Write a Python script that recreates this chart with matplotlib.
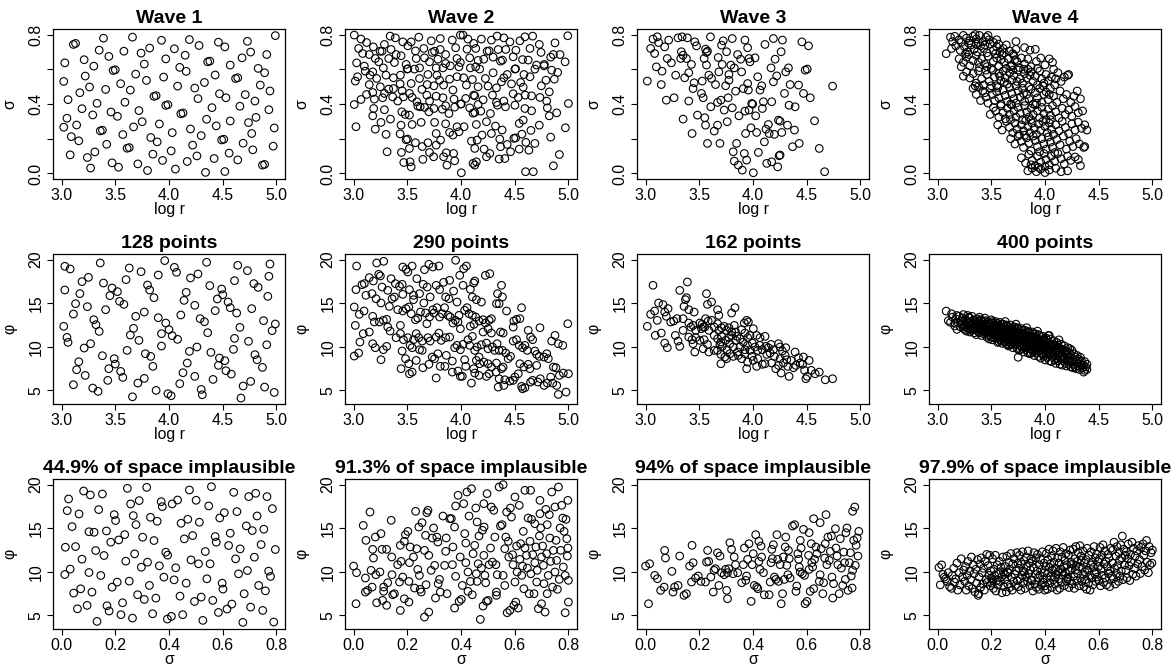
import matplotlib
matplotlib.use('Agg')
import matplotlib.pyplot as plt

# ---- wave 1 (128 points) ----
w1_logr_sigma = [
    (4.99, .794), (3.66, .785), (3.39, .779), (4.19, .771), (3.93, .767), (4.73, .761), (4.46, .756),
    (4.52, .729), (3.11, .743), (3.13, .749), (4.28, .737), (4.05, .718), (3.35, .710), (3.58, .704),
    (4.76, .699), (3.74, .693), (4.15, .681), (4.91, .685), (3.44, .674), (3.82, .722), (3.97, .660),
    (4.68, .666), (4.36, .643), (4.38, .647), (3.03, .637), (3.21, .655), (3.77, .630), (4.57, .624),
    (3.30, .618), (4.10, .611), (4.83, .605), (3.48, .593), (3.50, .597), (4.16, .588), (4.89, .580),
    (3.69, .572), (4.43, .567), (3.22, .561), (4.62, .547), (4.64, .551), (3.95, .555), (3.79, .536),
    (3.02, .530), (4.33, .524), (3.55, .517), (4.08, .503), (4.85, .509), (3.26, .498), (4.24, .492),
    (3.41, .484), (3.64, .480), (4.94, .475), (3.17, .465), (4.47, .459), (4.71, .454), (3.86, .444),
    (3.88, .448), (4.53, .436), (4.27, .431), (3.06, .425), (4.80, .417), (3.59, .410), (3.33, .404),
    (3.97, .392), (3.99, .396), (4.40, .379), (4.66, .387), (3.19, .373), (3.72, .362), (4.93, .367),
    (3.46, .354), (4.11, .344), (4.13, .348), (3.29, .337), (3.52, .329), (4.81, .323), (3.05, .318),
    (4.35, .312), (4.57, .302), (3.75, .298), (4.74, .293), (3.91, .285), (3.14, .279), (4.44, .274),
    (3.67, .268), (3.02, .266), (4.98, .262), (4.20, .256), (3.36, .245), (3.38, .249), (4.03, .235),
    (4.77, .230), (3.57, .224), (4.30, .218), (3.09, .212), (3.83, .207), (4.49, .193), (4.51, .197),
    (3.89, .182), (3.16, .188), (4.69, .174), (3.42, .168), (4.22, .163), (4.97, .157), (3.61, .145),
    (3.63, .149), (4.78, .136), (4.02, .130), (3.31, .124), (4.56, .117), (3.85, .111), (3.08, .107),
    (4.26, .101), (3.24, .092), (4.42, .086), (3.94, .075), (4.64, .078), (4.17, .069), (3.47, .061),
    (3.71, .055), (4.87, .048), (4.89, .052), (3.53, .036), (3.27, .031), (4.06, .025), (3.80, .017),
    (4.52, .011), (4.34, .006)]
w1_logr_phi = [
    (3.03, 19.24), (3.08, 18.93), (3.36, 19.62), (3.63, 19.04), (3.96, 19.89), (4.05, 19.12), (4.07, 18.55),
    (4.35, 19.70), (4.27, 18.36), (4.20, 17.90), (3.74, 18.62), (3.90, 18.24), (3.60, 17.71), (4.64, 19.35),
    (4.73, 18.74), (4.94, 19.50), (4.93, 18.09), (3.25, 17.97), (3.19, 17.48), (3.03, 16.52), (3.39, 17.32),
    (3.80, 17.09), (3.82, 16.52), (3.47, 16.75), (3.52, 16.33), (3.45, 15.87), (3.17, 16.10), (3.13, 14.95),
    (3.24, 14.61), (3.54, 15.22), (3.58, 14.87), (3.86, 15.64), (4.16, 16.25), (4.14, 15.33), (4.24, 14.76),
    (4.38, 17.02), (4.49, 16.63), (4.50, 15.98), (4.45, 15.49), (4.55, 15.14), (4.57, 14.49), (4.61, 17.59),
    (4.79, 17.25), (4.83, 16.82), (4.92, 15.79), (3.41, 14.26), (3.77, 13.99), (4.11, 13.65), (4.43, 14.15),
    (4.77, 14.38), (4.63, 13.88), (3.11, 13.76), (3.69, 13.50), (3.30, 13.11), (3.32, 12.54), (3.90, 13.34),
    (4.29, 13.23), (4.33, 12.88), (4.88, 13.00), (4.99, 12.62), (3.02, 12.35), (3.97, 12.73), (4.66, 12.23),
    (3.35, 11.77), (3.67, 12.12), (4.00, 11.97), (4.96, 11.85), (4.36, 11.62), (3.93, 11.51), (3.64, 11.35),
    (4.03, 11.28), (4.08, 10.86), (3.05, 11.08), (3.06, 10.51), (4.61, 10.97), (3.72, 10.74), (4.74, 10.63),
    (3.27, 10.36), (4.91, 10.24), (3.93, 10.09), (3.21, 9.86), (4.26, 9.98), (4.60, 9.71), (3.61, 9.59),
    (4.19, 9.48), (4.39, 9.36), (3.38, 8.98), (3.78, 9.21), (3.83, 8.90), (4.80, 9.10), (4.82, 8.52),
    (3.49, 8.64), (4.47, 8.71), (4.52, 8.41), (3.16, 8.29), (3.50, 8.02), (4.17, 8.14), (4.46, 7.87),
    (3.85, 7.76), (4.87, 7.64), (3.44, 7.49), (3.14, 7.37), (4.53, 7.26), (3.55, 7.18), (4.13, 7.03),
    (4.58, 6.87), (3.22, 6.72), (4.24, 6.61), (3.57, 6.49), (3.77, 6.38), (3.43, 6.15), (4.41, 6.26),
    (4.76, 6.03), (4.10, 5.77), (3.11, 5.65), (3.71, 5.84), (4.69, 5.50), (3.29, 5.27), (4.89, 5.38),
    (3.34, 4.89), (3.88, 5.00), (4.30, 5.11), (4.98, 4.77), (3.99, 4.62), (4.02, 4.39), (4.31, 4.50),
    (3.66, 4.27), (4.67, 4.12)]
w1_sigma_phi = [
    (.014, 12.82), (.026, 18.36), (.021, 17.02), (.039, 15.19), (.052, 12.90), (.012, 9.69), (.032, 10.31),
    (.045, 7.56), (.059, 5.76), (.071, 8.05), (.065, 16.64), (.076, 11.45), (.082, 19.27), (.095, 6.15),
    (.102, 9.92), (.107, 18.82), (.113, 7.67), (.121, 14.54), (.102, 14.60), (.127, 12.44), (.132, 4.31),
    (.146, 9.58), (.152, 18.93), (.138, 17.14), (.158, 11.87), (.167, 14.69), (.169, 6.11), (.177, 5.50),
    (.183, 13.40), (.188, 8.24), (.196, 16.56), (.201, 15.88), (.207, 8.82), (.213, 13.66), (.221, 5.08),
    (.227, 6.45), (.235, 14.27), (.239, 11.22), (.245, 19.58), (.252, 8.93), (.257, 17.79), (.264, 4.69),
    (.267, 16.45), (.272, 12.06), (.277, 15.42), (.283, 7.37), (.289, 18.17), (.302, 13.97), (.297, 10.53),
    (.308, 6.83), (.317, 19.69), (.320, 11.11), (.327, 8.44), (.331, 16.26), (.339, 5.19), (.344, 13.59),
    (.351, 6.98), (.356, 15.80), (.364, 10.69), (.371, 18.05), (.375, 17.48), (.381, 9.39), (.388, 12.25),
    (.395, 11.91), (.394, 4.58), (.409, 4.89), (.412, 17.79), (.419, 9.08), (.425, 10.46), (.432, 18.24),
    (.441, 7.21), (.445, 15.57), (.451, 5.08), (.457, 13.78), (.464, 8.70), (.470, 16.03), (.476, 19.39),
    (.482, 11.37), (.488, 14.16), (.501, 18.21), (.495, 6.60), (.510, 10.92), (.513, 15.69), (.520, 7.10),
    (.526, 4.43), (.535, 12.33), (.541, 9.20), (.548, 17.56), (.553, 10.92), (.558, 19.77), (.563, 6.72),
    (.572, 14.05), (.576, 13.40), (.584, 5.34), (.589, 16.18), (.598, 8.70), (.601, 8.02), (.606, 16.79),
    (.616, 5.73), (.622, 13.02), (.628, 14.43), (.634, 6.30), (.641, 19.12), (.648, 11.49), (.653, 16.91),
    (.659, 9.77), (.665, 12.63), (.675, 4.20), (.680, 7.48), (.688, 15.27), (.692, 10.15), (.697, 18.63),
    (.704, 5.95), (.710, 14.73), (.718, 11.68), (.723, 19.01), (.728, 16.41), (.734, 8.44), (.743, 13.13),
    (.749, 5.57), (.753, 14.89), (.759, 7.82), (.765, 18.63), (.771, 10.08), (.778, 9.47), (.785, 17.25),
    (.790, 4.24), (.796, 12.56)]

# ---- wave 2 (290 points) ----
w2_logr_sigma = [
    (3.006, .797), (3.340, .791), (3.389, .781), (3.994, .797), (4.019, .797), (4.065, .774), (4.336, .791),
    (4.399, .781), (4.595, .787), (4.667, .791), (4.994, .793), (3.069, .774), (3.121, .754), (3.184, .729),
    (3.287, .743), (3.458, .758), (3.536, .758), (3.607, .785), (3.723, .764), (3.807, .777), (3.919, .768),
    (4.118, .749), (4.190, .774), (4.283, .768), (4.455, .758), (4.548, .764), (4.729, .743), (4.875, .752),
    (3.047, .720), (3.084, .691), (3.146, .685), (3.202, .662), (3.246, .704), (3.265, .704), (3.349, .714),
    (3.396, .685), (3.505, .735), (3.576, .706), (3.654, .720), (3.732, .697), (3.754, .704), (3.807, .714),
    (3.857, .685), (3.950, .724), (4.056, .716), (4.137, .720), (4.243, .704), (4.262, .706), (4.346, .714),
    (4.417, .714), (4.511, .710), (4.642, .720), (4.745, .697), (4.860, .685), (4.922, .685), (3.028, .637),
    (3.100, .618), (3.178, .585), (3.234, .643), (3.277, .608), (3.327, .662), (3.380, .639), (3.442, .678),
    (3.489, .628), (3.583, .662), (3.660, .666), (3.707, .643), (3.785, .658), (3.857, .633), (3.963, .662),
    (3.994, .639), (4.081, .666), (4.159, .651), (4.212, .658), (4.299, .670), (4.368, .647), (4.386, .653),
    (4.486, .672), (4.573, .656), (4.626, .653), (4.704, .624), (4.776, .628), (4.835, .670), (4.969, .643),
    (3.016, .532), (3.037, .557), (3.109, .589), (3.153, .566), (3.302, .566), (3.371, .551), (3.436, .566),
    (3.498, .601), (3.505, .603), (3.567, .601), (3.614, .608), (3.692, .570), (3.769, .608), (3.832, .608),
    (3.900, .620), (3.981, .614), (4.087, .608), (4.137, .614), (4.174, .601), (4.299, .580), (4.399, .551),
    (4.430, .570), (4.502, .601), (4.508, .603), (4.586, .570), (4.642, .557), (4.688, .601), (4.773, .620),
    (4.844, .595), (4.900, .582), (3.146, .512), (3.215, .547), (3.249, .499), (3.327, .486), (3.371, .489),
    (3.433, .516), (3.452, .476), (3.536, .518), (3.614, .547), (3.636, .484), (3.685, .512), (3.748, .505),
    (3.776, .566), (3.801, .537), (3.838, .509), (3.894, .543), (3.925, .480), (3.963, .557), (4.025, .551),
    (4.050, .509), (4.106, .541), (4.159, .499), (4.227, .547), (4.252, .503), (4.330, .493), (4.377, .528),
    (4.470, .516), (4.555, .524), (4.579, .497), (4.748, .505), (4.791, .537), (4.869, .543), (3.121, .455),
    (3.069, .426), (3.178, .466), (3.193, .428), (3.271, .436), (3.287, .461), (3.364, .441), (3.411, .417),
    (3.464, .441), (3.520, .461), (3.545, .438), (3.589, .413), (3.620, .384), (3.682, .451), (3.707, .417),
    (3.769, .445), (3.832, .436), (3.857, .390), (3.935, .428), (3.997, .399), (4.003, .401), (4.044, .432),
    (4.118, .451), (4.128, .447), (4.159, .397), (4.206, .424), (4.293, .451), (4.330, .409), (4.399, .417),
    (4.486, .459), (4.533, .438), (4.598, .451), (4.657, .447), (4.735, .438), (4.822, .470), (4.798, .417),
    (5.000, .403), (3.006, .397), (3.187, .374), (3.287, .367), (3.449, .355), (3.480, .340), (3.520, .336),
    (3.598, .388), (3.660, .380), (3.701, .355), (3.748, .374), (3.826, .370), (3.888, .345), (3.941, .382),
    (4.081, .378), (4.112, .347), (4.128, .351), (4.184, .359), (4.274, .345), (4.340, .393), (4.414, .384),
    (4.502, .393), (4.595, .374), (4.657, .361), (4.804, .378), (4.891, .349), (4.822, .332), (3.178, .332),
    (3.255, .294), (3.343, .313), (3.442, .278), (3.545, .282), (3.629, .294), (3.754, .294), (3.857, .286),
    (3.963, .269), (4.028, .269), (3.981, .240), (4.143, .282), (4.237, .298), (4.321, .273), (4.383, .250),
    (4.542, .288), (4.579, .307), (4.651, .248), (4.729, .278), (4.972, .263), (3.022, .269), (3.202, .255),
    (3.302, .225), (3.433, .228), (3.489, .194), (3.502, .198), (3.576, .177), (3.692, .177), (3.769, .230),
    (3.810, .192), (3.894, .236), (3.925, .221), (4.097, .186), (4.150, .192), (4.196, .221), (4.283, .230),
    (4.361, .198), (4.492, .202), (4.508, .205), (4.567, .226), (4.604, .179), (4.688, .173), (4.835, .209),
    (3.312, .125), (3.445, .121), (3.520, .144), (3.639, .155), (3.707, .121), (3.769, .163), (3.863, .119),
    (3.931, .115), (4.128, .144), (4.215, .140), (4.268, .115), (4.368, .154), (4.430, .167), (4.461, .125),
    (4.542, .140), (4.632, .134), (4.916, .109), (3.467, .063), (3.526, .067), (3.536, .038), (3.645, .081),
    (3.745, .096), (3.838, .096), (3.869, .048), (3.941, .073), (4.003, .004), (4.112, .058), (4.143, .067),
    (4.128, .048), (4.237, .096), (4.355, .083), (4.408, .086), (4.601, .010), (4.673, .010), (4.860, .044)]
w2_logr_phi = [
    (3.028, 19.27), (3.215, 19.62), (3.280, 19.81), (3.458, 19.16), (3.489, 18.89), (3.505, 18.59), (3.545, 19.27),
    (3.660, 18.85), (3.701, 19.47), (3.738, 19.16), (3.794, 19.27), (3.950, 19.93), (4.025, 18.97), (4.050, 19.27),
    (3.988, 18.20), (4.227, 18.20), (4.268, 18.39), (3.022, 16.56), (3.078, 17.13), (3.100, 17.25), (3.146, 17.94),
    (3.184, 17.55), (3.234, 18.32), (3.249, 18.13), (3.265, 16.86), (3.318, 16.48), (3.349, 17.82), (3.389, 17.25),
    (3.427, 16.94), (3.452, 17.17), (3.458, 16.02), (3.520, 16.56), (3.558, 15.91), (3.589, 17.82), (3.614, 16.10),
    (3.648, 17.17), (3.685, 16.86), (3.713, 15.72), (3.769, 17.06), (3.801, 16.56), (3.838, 17.40), (3.857, 15.72),
    (3.888, 15.52), (3.894, 17.63), (3.931, 16.40), (3.963, 15.14), (4.019, 17.06), (4.087, 16.60), (4.106, 15.72),
    (4.118, 17.32), (4.128, 17.55), (4.143, 15.41), (4.190, 15.14), (4.340, 16.10), (4.355, 14.95), (4.377, 17.06),
    (4.386, 15.72), (3.115, 15.91), (3.171, 16.10), (3.209, 15.52), (3.255, 15.03), (3.006, 14.57), (3.053, 13.73),
    (3.097, 14.11), (3.178, 13.50), (3.193, 12.85), (3.240, 12.85), (3.277, 13.04), (3.308, 13.15), (3.333, 14.64),
    (3.358, 15.52), (3.380, 15.72), (3.411, 14.26), (3.436, 12.46), (3.458, 14.11), (3.489, 14.38), (3.514, 14.57),
    (3.536, 13.80), (3.558, 15.41), (3.576, 13.11), (3.598, 13.30), (3.623, 13.99), (3.654, 15.03), (3.670, 13.88),
    (3.682, 12.65), (3.707, 13.42), (3.738, 14.26), (3.748, 13.88), (3.776, 14.49), (3.801, 13.42), (3.826, 13.80),
    (3.847, 14.49), (3.879, 13.61), (3.900, 13.42), (3.925, 12.73), (3.947, 13.04), (3.972, 12.85), (3.981, 13.61),
    (3.994, 12.08), (4.034, 14.19), (4.056, 14.49), (4.075, 13.80), (4.106, 13.61), (4.137, 13.42), (4.087, 12.35),
    (4.121, 12.58), (4.168, 12.96), (4.206, 13.11), (4.227, 12.73), (4.262, 13.04), (4.283, 13.23), (4.206, 11.70),
    (4.252, 12.08), (4.283, 11.58), (4.330, 14.95), (4.368, 11.70), (4.392, 11.58), (4.424, 14.11), (4.492, 12.96),
    (4.517, 13.15), (4.548, 13.23), (4.564, 14.49), (4.486, 12.27), (4.626, 11.89), (4.735, 12.19), (4.994, 12.65),
    (3.016, 12.46), (3.090, 11.51), (3.059, 10.55), (3.146, 11.70), (3.178, 10.36), (3.202, 9.90), (3.340, 11.81),
    (3.318, 12.27), (3.277, 9.67), (3.308, 10.05), (3.255, 8.52), (3.006, 8.94), (3.047, 9.29), (3.396, 11.05),
    (3.436, 11.51), (3.464, 10.82), (3.505, 11.05), (3.558, 10.82), (3.583, 11.51), (3.607, 11.05), (3.639, 10.66),
    (3.692, 11.05), (3.713, 10.66), (3.769, 11.12), (3.794, 11.58), (3.816, 10.74), (3.857, 11.05), (3.894, 11.12),
    (3.526, 10.17), (3.545, 9.90), (3.452, 9.52), (3.483, 8.64), (3.514, 8.06), (3.583, 8.44), (3.614, 9.67),
    (3.639, 9.59), (3.442, 7.49), (3.520, 6.91), (3.545, 7.10), (3.645, 7.60), (3.701, 7.99), (3.732, 8.83),
    (3.754, 8.64), (3.785, 9.21), (3.807, 7.76), (3.850, 7.76), (3.863, 9.02), (3.919, 8.37), (3.941, 9.90),
    (3.963, 10.17), (3.994, 9.67), (4.019, 10.28), (4.034, 8.52), (4.044, 7.76), (3.972, 7.22), (3.919, 7.10),
    (3.994, 6.61), (4.012, 6.61), (3.769, 6.42), (4.065, 10.82), (4.081, 10.17), (4.106, 11.20), (4.128, 9.59),
    (4.150, 9.98), (4.168, 8.83), (4.190, 10.24), (4.237, 10.43), (4.252, 9.78), (4.293, 9.98), (4.314, 9.59),
    (4.336, 10.36), (4.355, 9.59), (4.386, 9.59), (4.417, 9.29), (4.439, 8.64), (4.461, 8.90), (4.486, 10.66),
    (4.517, 10.82), (4.542, 10.17), (4.573, 9.90), (4.595, 10.17), (4.617, 9.59), (4.648, 11.12), (4.667, 10.82),
    (4.688, 9.52), (4.704, 9.13), (4.729, 8.90), (4.773, 8.83), (4.798, 9.21), (4.813, 8.64), (4.844, 10.66),
    (4.875, 11.31), (4.906, 10.36), (4.947, 10.17), (4.143, 8.44), (4.174, 8.06), (4.212, 8.25), (4.252, 8.06),
    (4.283, 7.68), (4.330, 8.14), (4.377, 7.49), (4.392, 7.68), (4.118, 7.49), (4.128, 6.99), (4.168, 6.72),
    (4.237, 6.61), (4.262, 6.91), (4.327, 7.10), (4.355, 6.34), (4.097, 5.84), (4.408, 6.22), (4.399, 5.57),
    (4.346, 5.38), (4.455, 6.07), (4.486, 6.15), (4.502, 6.53), (4.533, 6.91), (4.548, 8.06), (4.586, 7.68),
    (4.626, 7.99), (4.642, 7.49), (4.704, 7.87), (4.564, 5.46), (4.573, 5.19), (4.595, 5.31), (4.648, 5.96),
    (4.667, 6.15), (4.716, 5.96), (4.738, 6.34), (4.773, 5.57), (4.804, 5.84), (4.835, 6.53), (4.860, 7.68),
    (4.884, 7.60), (4.854, 5.84), (4.891, 5.57), (4.916, 6.72), (4.953, 6.99), (5.000, 6.91), (4.906, 4.54),
    (4.978, 4.81)]
w2_sigma_phi = [
    (.000, 10.66), (.011, 9.90), (.009, 6.34), (.036, 15.33), (.046, 13.61), (.044, 9.29), (.044, 7.68),
    (.052, 7.87), (.061, 16.86), (.069, 8.25), (.071, 12.58), (.065, 10.17), (.074, 11.58), (.081, 13.99),
    (.083, 9.67), (.086, 6.45), (.098, 9.98), (.102, 14.38), (.106, 12.58), (.108, 6.72), (.112, 8.25),
    (.112, 7.76), (.123, 6.15), (.123, 12.58), (.127, 8.75), (.140, 15.91), (.142, 11.70), (.143, 9.67),
    (.146, 7.37), (.152, 7.49), (.164, 10.82), (.171, 8.83), (.174, 5.57), (.174, 13.04), (.177, 11.20),
    (.183, 9.40), (.189, 13.50), (.193, 14.26), (.202, 14.64), (.189, 6.91), (.206, 6.53), (.206, 8.90),
    (.208, 11.05), (.211, 12.85), (.223, 11.70), (.227, 8.14), (.231, 16.94), (.235, 12.65), (.239, 10.28),
    (.243, 15.14), (.245, 9.59), (.248, 7.99), (.252, 7.68), (.255, 15.64), (.264, 12.46), (.264, 4.81),
    (.268, 14.19), (.270, 8.52), (.273, 16.79), (.277, 17.06), (.280, 5.38), (.280, 11.89), (.289, 10.17),
    (.293, 13.88), (.298, 15.03), (.302, 10.74), (.305, 6.99), (.310, 13.99), (.314, 13.42), (.315, 8.64),
    (.320, 9.13), (.323, 7.68), (.339, 10.74), (.333, 16.40), (.343, 12.35), (.345, 13.88), (.348, 7.49),
    (.358, 16.10), (.364, 16.10), (.368, 10.82), (.370, 12.85), (.376, 15.14), (.376, 5.84), (.380, 9.48),
    (.380, 17.55), (.389, 18.78), (.393, 6.61), (.397, 11.70), (.401, 6.84), (.405, 8.44), (.410, 17.82),
    (.414, 14.38), (.418, 13.30), (.418, 11.05), (.422, 19.16), (.426, 9.98), (.426, 7.76), (.430, 16.40),
    (.435, 8.90), (.439, 19.54), (.442, 7.37), (.445, 12.08), (.451, 13.04), (.455, 17.32), (.457, 9.78),
    (.460, 15.72), (.460, 8.90), (.464, 10.93), (.467, 14.11), (.472, 4.54), (.476, 10.43), (.480, 14.76),
    (.482, 6.07), (.485, 17.82), (.486, 15.14), (.485, 11.89), (.489, 9.59), (.492, 8.75), (.495, 6.61),
    (.497, 18.97), (.501, 6.72), (.505, 10.82), (.510, 12.73), (.513, 17.44), (.517, 11.12), (.522, 17.06),
    (.526, 13.99), (.530, 10.82), (.532, 7.30), (.535, 9.67), (.532, 7.68), (.542, 19.73), (.547, 15.26),
    (.553, 15.41), (.557, 9.59), (.557, 20.00), (.563, 12.65), (.563, 8.44), (.567, 13.99), (.570, 16.86),
    (.572, 5.31), (.576, 13.50), (.578, 11.70), (.582, 5.57), (.584, 17.32), (.588, 16.29), (.592, 11.97),
    (.594, 10.82), (.597, 6.15), (.601, 18.59), (.601, 8.83), (.604, 6.53), (.607, 12.96), (.609, 9.98),
    (.613, 5.84), (.617, 17.63), (.619, 11.43), (.622, 13.23), (.626, 9.59), (.629, 10.66), (.632, 14.64),
    (.634, 8.06), (.638, 19.35), (.638, 12.73), (.644, 11.89), (.647, 10.43), (.650, 16.17), (.654, 7.49),
    (.657, 13.50), (.659, 19.35), (.660, 9.78), (.663, 16.02), (.667, 11.97), (.672, 7.49), (.675, 15.52),
    (.675, 11.05), (.679, 12.85), (.682, 8.83), (.684, 10.17), (.688, 5.77), (.692, 14.11), (.694, 18.20),
    (.694, 16.67), (.697, 15.03), (.700, 11.70), (.700, 6.34), (.704, 12.96), (.707, 10.74), (.709, 8.64),
    (.713, 5.38), (.716, 17.17), (.719, 12.08), (.721, 15.41), (.721, 7.49), (.725, 9.59), (.729, 16.56),
    (.731, 13.88), (.734, 11.20), (.738, 19.16), (.741, 8.25), (.744, 12.46), (.750, 17.44), (.750, 9.98),
    (.754, 13.61), (.756, 11.31), (.759, 7.99), (.763, 19.73), (.766, 9.13), (.769, 15.03), (.771, 12.46),
    (.775, 17.63), (.779, 16.17), (.781, 10.55), (.784, 14.64), (.788, 9.59), (.791, 16.02), (.794, 13.80),
    (.796, 11.81), (.798, 18.20), (.798, 12.73), (.800, 9.02), (.800, 6.53), (.788, 5.31)]

# ---- wave 3 (162 points) ----
w3_logr_sigma = [
    (3.016, .532), (3.047, .720), (3.069, .774), (3.084, .691), (3.100, .614), (3.109, .787), (3.121, .754),
    (3.153, .589), (3.146, .512), (3.178, .729), (3.193, .422), (3.202, .662), (3.215, .768), (3.240, .637),
    (3.265, .436), (3.280, .566), (3.302, .781), (3.327, .662), (3.333, .701), (3.349, .681), (3.340, .787),
    (3.364, .551), (3.380, .662), (3.389, .781), (3.402, .580), (3.402, .417), (3.427, .628), (3.433, .230),
    (3.442, .489), (3.452, .522), (3.458, .758), (3.474, .735), (3.349, .313), (3.483, .336), (3.520, .461),
    (3.536, .436), (3.527, .532), (3.545, .662), (3.558, .716), (3.567, .697), (3.576, .704), (3.567, .624),
    (3.551, .321), (3.558, .278), (3.576, .173), (3.589, .566), (3.604, .787), (3.614, .547), (3.607, .384),
    (3.639, .244), (3.651, .512), (3.670, .409), (3.670, .278), (3.682, .585), (3.676, .668), (3.692, .173),
    (3.701, .422), (3.707, .739), (3.713, .628), (3.723, .764), (3.732, .365), (3.754, .701), (3.745, .505),
    (3.760, .298), (3.769, .436), (3.776, .570), (3.776, .537), (3.794, .624), (3.807, .777), (3.807, .378),
    (3.816, .125), (3.826, .608), (3.826, .071), (3.838, .474), (3.847, .173), (3.857, .685), (3.863, .048),
    (3.869, .332), (3.885, .658), (3.894, .585), (3.900, .019), (3.910, .489), (3.919, .115), (3.925, .359),
    (3.925, .768), (3.931, .230), (3.941, .077), (3.950, .724), (3.950, .518), (3.957, .480), (3.963, .662),
    (3.963, .365), (3.972, .643), (3.981, .263), (3.988, .403), (3.997, .399), (4.003, .004), (4.019, .666),
    (4.025, .332), (4.034, .236), (4.044, .557), (4.050, .121), (4.065, .480), (4.081, .505), (4.087, .374),
    (4.097, .413), (4.106, .182), (4.112, .743), (4.121, .255), (4.128, .058), (4.143, .282), (4.150, .230),
    (4.168, .608), (4.174, .067), (4.174, .413), (4.190, .777), (4.190, .528), (4.199, .225), (4.206, .658),
    (4.221, .562), (4.230, .038), (4.237, .307), (4.243, .102), (4.252, .301), (4.252, .106), (4.262, .701),
    (4.268, .236), (4.274, .768), (4.293, .461), (4.305, .585), (4.321, .278), (4.330, .608), (4.346, .512),
    (4.336, .393), (4.368, .154), (4.386, .250), (4.392, .384), (4.424, .509), (4.430, .173), (4.455, .758),
    (4.470, .461), (4.486, .595), (4.505, .601), (4.517, .735), (4.533, .436), (4.573, .303), (4.617, .144),
    (4.667, .010), (4.741, .503)]
w3_logr_phi = [
    (3.069, 17.06), (3.389, 17.44), (3.318, 16.48), (3.371, 15.41), (3.380, 15.64), (3.567, 16.10), (3.576, 14.87),
    (3.614, 15.14), (3.121, 15.03), (3.162, 14.84), (3.084, 14.11), (3.047, 13.73), (3.178, 13.99), (3.209, 14.38),
    (3.193, 13.50), (3.358, 14.64), (3.402, 14.26), (3.452, 13.99), (3.832, 14.49), (3.801, 13.88), (3.670, 14.26),
    (3.682, 13.61), (3.109, 13.04), (3.234, 12.85), (3.262, 12.96), (3.293, 13.23), (3.349, 13.23), (3.402, 12.73),
    (3.442, 12.46), (3.505, 12.73), (3.526, 12.58), (3.558, 13.23), (3.583, 12.96), (3.614, 13.04), (3.016, 12.35),
    (3.146, 11.58), (3.090, 11.31), (3.349, 11.89), (3.421, 12.27), (3.467, 11.89), (3.520, 12.08), (3.551, 12.27),
    (3.589, 11.89), (3.639, 12.27), (3.670, 12.65), (3.682, 11.89), (3.707, 12.19), (3.732, 12.35), (3.754, 11.89),
    (3.776, 12.19), (3.801, 11.70), (3.826, 12.46), (3.838, 11.70), (3.894, 11.97), (3.919, 12.73), (3.941, 13.04),
    (3.957, 12.85), (4.003, 12.08), (3.277, 11.31), (3.402, 11.12), (3.433, 10.82), (3.467, 11.05), (3.505, 10.74),
    (3.545, 10.82), (3.639, 11.31), (3.670, 10.93), (3.707, 11.20), (3.776, 11.05), (3.801, 11.31), (3.850, 11.20),
    (3.879, 10.93), (3.925, 11.58), (3.950, 11.05), (3.972, 11.31), (4.034, 11.31), (4.065, 11.05), (4.112, 11.20),
    (3.178, 10.43), (3.202, 9.90), (3.302, 10.66), (3.318, 10.05), (3.442, 10.36), (3.458, 9.40), (3.536, 9.78),
    (3.576, 10.28), (3.589, 9.40), (3.639, 9.59), (3.670, 9.59), (3.701, 10.55), (3.713, 10.05), (3.745, 10.74),
    (3.760, 9.67), (3.785, 10.36), (3.816, 9.98), (3.838, 10.74), (3.857, 9.40), (3.879, 9.98), (3.910, 10.55),
    (3.925, 9.67), (3.950, 10.17), (3.972, 9.59), (3.994, 10.43), (4.019, 9.98), (4.044, 9.59), (4.065, 10.17),
    (4.087, 9.67), (4.118, 10.05), (4.143, 9.90), (4.168, 10.28), (4.190, 9.67), (4.237, 10.36), (4.252, 9.98),
    (4.305, 9.90), (3.701, 9.13), (3.738, 8.83), (3.754, 8.64), (3.701, 8.06), (3.785, 9.21), (3.816, 8.90),
    (3.863, 9.02), (3.894, 8.64), (3.925, 9.21), (3.941, 7.49), (3.950, 8.25), (3.991, 8.90), (4.003, 8.44),
    (4.034, 7.76), (4.044, 8.64), (4.087, 7.99), (4.112, 8.06), (4.128, 9.13), (4.159, 9.29), (4.174, 8.14),
    (4.199, 8.90), (4.212, 7.49), (4.237, 7.87), (4.252, 8.64), (4.262, 6.99), (4.274, 9.52), (4.283, 8.14),
    (4.299, 9.02), (4.314, 8.52), (4.324, 7.76), (4.336, 6.61), (4.355, 8.44), (4.377, 7.60), (4.392, 9.40),
    (4.399, 7.87), (4.424, 8.75), (4.439, 8.14), (4.470, 8.83), (4.461, 7.99), (4.480, 7.30), (4.492, 6.34),
    (4.505, 6.61), (4.523, 8.44), (4.542, 7.30), (4.579, 6.91), (4.617, 7.10), (4.673, 6.22), (4.741, 6.34),
    (3.536, 12.27), (3.692, 10.28)]
w3_sigma_phi = [
    (.000, 10.66), (.015, 10.93), (.011, 6.34), (.034, 9.59), (.044, 9.21), (.056, 7.87), (.069, 8.25),
    (.071, 12.46), (.074, 11.58), (.098, 10.05), (.102, 7.68), (.108, 8.25), (.121, 8.44), (.127, 11.81),
    (.143, 7.30), (.152, 7.49), (.164, 10.66), (.171, 8.83), (.173, 13.04), (.177, 11.05), (.186, 9.29),
    (.196, 9.52), (.206, 8.90), (.223, 8.83), (.227, 11.12), (.231, 12.46), (.235, 11.20), (.243, 9.40),
    (.252, 7.68), (.255, 10.17), (.260, 10.36), (.268, 12.19), (.273, 8.44), (.277, 11.81), (.283, 9.90),
    (.293, 9.67), (.298, 10.28), (.302, 7.87), (.305, 6.91), (.305, 9.90), (.310, 10.36), (.314, 13.34),
    (.320, 12.58), (.326, 9.78), (.330, 11.70), (.335, 10.82), (.343, 9.90), (.358, 8.75), (.364, 10.82),
    (.368, 12.73), (.373, 9.02), (.376, 9.52), (.380, 11.43), (.385, 13.23), (.393, 6.61), (.397, 10.82),
    (.401, 12.08), (.405, 8.44), (.410, 14.26), (.414, 8.25), (.418, 8.06), (.422, 11.20), (.422, 13.50),
    (.426, 10.28), (.430, 12.96), (.432, 11.70), (.439, 9.90), (.442, 7.37), (.460, 7.37), (.464, 8.83),
    (.467, 11.05), (.470, 12.58), (.472, 11.51), (.476, 13.11), (.480, 9.40), (.485, 9.13), (.489, 14.26),
    (.492, 11.43), (.495, 8.90), (.501, 10.82), (.505, 6.34), (.510, 7.49), (.513, 11.70), (.517, 9.13),
    (.520, 12.85), (.522, 13.99), (.526, 10.74), (.530, 9.67), (.532, 12.46), (.535, 11.51), (.538, 9.29),
    (.547, 15.26), (.555, 15.41), (.560, 7.76), (.563, 8.37), (.567, 12.08), (.570, 11.43), (.572, 10.55),
    (.576, 9.98), (.576, 13.61), (.579, 12.73), (.584, 9.78), (.588, 14.87), (.592, 9.59), (.594, 6.34),
    (.601, 6.61), (.607, 11.89), (.609, 14.49), (.609, 10.28), (.613, 7.76), (.617, 13.23), (.619, 11.05),
    (.622, 10.55), (.626, 8.06), (.626, 16.10), (.629, 11.43), (.634, 12.85), (.638, 12.08), (.647, 8.90),
    (.650, 9.67), (.650, 15.64), (.654, 12.65), (.660, 7.49), (.663, 8.75), (.667, 11.58), (.669, 13.23),
    (.672, 16.56), (.675, 10.82), (.679, 13.99), (.684, 11.31), (.688, 12.35), (.692, 14.11), (.694, 9.40),
    (.697, 6.99), (.700, 8.64), (.707, 14.95), (.709, 12.73), (.713, 11.81), (.716, 10.82), (.721, 7.49),
    (.725, 13.80), (.729, 10.43), (.734, 8.44), (.738, 12.27), (.741, 11.05), (.744, 9.13), (.746, 14.49),
    (.750, 15.03), (.754, 7.87), (.759, 11.05), (.763, 12.19), (.766, 9.52), (.769, 8.14), (.771, 16.94),
    (.775, 13.61), (.779, 17.44), (.781, 10.74), (.784, 13.04), (.788, 13.88), (.791, 11.81), (.794, 14.64),
    (.771, 10.17)]

# ---- wave 4 (400 points) ----
w4_logr_sigma = [
    (3.12, .785), (3.16, .79), (3.20, .77), (3.24, .795), (3.27, .78), (3.30, .765), (3.33, .79), (3.36, .775),
    (3.39, .795), (3.42, .76), (3.45, .785), (3.48, .77), (3.52, .755), (3.22, .755), (3.29, .75), (3.38, .755),
    (3.47, .795), (3.55, .77), (3.73, .76), (3.35, .80), (3.14, .76), (3.08, .69),
    (3.13, .72), (3.17, .735), (3.21, .71), (3.25, .73), (3.28, .70), (3.31, .74), (3.34, .715), (3.37, .70),
    (3.40, .735), (3.43, .72), (3.46, .695), (3.49, .745), (3.52, .71), (3.55, .73), (3.58, .70), (3.61, .72),
    (3.64, .74), (3.67, .705), (3.70, .69), (3.26, .69), (3.36, .745), (3.44, .74), (3.57, .745), (3.81, .725),
    (3.86, .71), (3.91, .715), (3.62, .695), (3.73, .715),
    (3.20, .66), (3.24, .64), (3.27, .67), (3.30, .62), (3.33, .65), (3.36, .68), (3.39, .61), (3.41, .66),
    (3.44, .63), (3.47, .675), (3.50, .605), (3.52, .645), (3.55, .665), (3.57, .62), (3.60, .685), (3.62, .64),
    (3.64, .605), (3.66, .66), (3.69, .625), (3.71, .68), (3.74, .645), (3.76, .61), (3.78, .665), (3.81, .63),
    (3.84, .66), (3.87, .615), (3.92, .645), (3.96, .665), (4.00, .625), (4.04, .66), (4.07, .64), (3.29, .685),
    (3.38, .64), (3.46, .615), (3.54, .69), (3.59, .655), (3.68, .615), (3.72, .655), (3.80, .60), (3.93, .605),
    (4.08, .60), (3.22, .615),
    (3.24, .56), (3.27, .585), (3.30, .55), (3.33, .575), (3.36, .52), (3.38, .59), (3.41, .545), (3.43, .51),
    (3.46, .57), (3.48, .53), (3.51, .595), (3.53, .555), (3.55, .505), (3.57, .575), (3.59, .535), (3.61, .59),
    (3.63, .55), (3.65, .515), (3.67, .58), (3.69, .54), (3.71, .565), (3.73, .505), (3.75, .595), (3.77, .545),
    (3.79, .52), (3.81, .575), (3.83, .55), (3.85, .50), (3.87, .585), (3.89, .53), (3.91, .56), (3.93, .51),
    (3.95, .59), (3.97, .545), (3.99, .52), (4.01, .57), (4.03, .535), (4.06, .555), (4.09, .51), (4.12, .58),
    (4.15, .53), (4.18, .555), (4.21, .565), (4.22, .57), (3.35, .505), (3.50, .505), (3.62, .525), (3.74, .53),
    (3.86, .565), (3.98, .505), (4.10, .545), (3.45, .595), (3.58, .56), (3.70, .595), (3.84, .60),
    (3.33, .49), (3.36, .455), (3.40, .42), (3.42, .475), (3.45, .44), (3.47, .405), (3.49, .49), (3.51, .455),
    (3.53, .42), (3.55, .47), (3.57, .435), (3.59, .40), (3.61, .48), (3.63, .45), (3.65, .415), (3.67, .495),
    (3.69, .46), (3.71, .43), (3.73, .405), (3.75, .475), (3.77, .44), (3.79, .49), (3.81, .415), (3.83, .455),
    (3.85, .43), (3.87, .485), (3.89, .40), (3.91, .465), (3.93, .435), (3.95, .49), (3.97, .41), (3.99, .455),
    (4.01, .47), (4.03, .425), (4.05, .49), (4.08, .445), (4.11, .41), (4.14, .475), (4.17, .43), (4.20, .455),
    (4.24, .41), (4.27, .445), (4.30, .475), (4.33, .43), (3.56, .495), (3.68, .40), (3.80, .46), (3.92, .405),
    (4.04, .455), (3.44, .465), (3.38, .50),
    (3.49, .34), (3.52, .38), (3.54, .36), (3.57, .325), (3.59, .39), (3.61, .35), (3.63, .315), (3.65, .375),
    (3.67, .34), (3.69, .395), (3.71, .36), (3.73, .325), (3.75, .38), (3.77, .345), (3.79, .31), (3.81, .39),
    (3.83, .355), (3.85, .325), (3.87, .375), (3.89, .34), (3.91, .395), (3.93, .36), (3.95, .32), (3.97, .38),
    (3.99, .345), (4.01, .31), (4.03, .37), (4.05, .335), (4.07, .39), (4.10, .355), (4.13, .32), (4.16, .375),
    (4.19, .34), (4.22, .365), (4.25, .33), (4.28, .385), (4.31, .35), (4.35, .36),
    (3.56, .28), (3.60, .25), (3.64, .30), (3.67, .265), (3.70, .235), (3.72, .29), (3.74, .255), (3.76, .225),
    (3.78, .28), (3.80, .245), (3.82, .305), (3.84, .27), (3.86, .235), (3.88, .29), (3.90, .26), (3.92, .225),
    (3.94, .285), (3.96, .25), (3.98, .30), (4.00, .27), (4.02, .235), (4.04, .29), (4.06, .255), (4.08, .225),
    (4.10, .28), (4.13, .245), (4.16, .30), (4.19, .265), (4.22, .23), (4.25, .285), (4.28, .25), (4.31, .295),
    (4.34, .26), (4.37, .28), (4.39, .25), (3.68, .31), (3.87, .31), (4.05, .31),
    (3.68, .20), (3.72, .17), (3.75, .215), (3.78, .185), (3.80, .15), (3.83, .205), (3.85, .175), (3.87, .13),
    (3.89, .215), (3.91, .19), (3.93, .155), (3.95, .125), (3.97, .20), (3.99, .17), (4.01, .14), (4.03, .21),
    (4.05, .18), (4.07, .15), (4.09, .12), (4.11, .195), (4.14, .165), (4.17, .215), (4.20, .14), (4.23, .185),
    (4.26, .155), (4.29, .20), (4.32, .17), (4.36, .15), (4.37, .155), (3.81, .22),
    (3.78, .09), (3.82, .06), (3.85, .11), (3.88, .075), (3.91, .045), (3.93, .10), (3.96, .065), (3.99, .115),
    (4.01, .08), (4.04, .05), (4.06, .10), (4.09, .07), (4.12, .115), (4.15, .085), (4.18, .055), (4.21, .10),
    (4.24, .075), (4.28, .095), (4.31, .08), (4.33, .045), (4.00, .04), (3.87, .05),
    (3.84, .015), (3.88, .03), (3.92, .01), (3.96, .025), (4.00, .005), (4.04, .02), (4.10, .03), (4.15, .01),
    (4.21, .015), (3.94, .035)]
w4_logr_phi = [
    (3.08, 14.1), (3.10, 13.0), (3.12, 12.8), (3.14, 13.4), (3.13, 13.8),
    (3.16, 12.4), (3.17, 13.2), (3.18, 12.0), (3.19, 12.8), (3.20, 13.5), (3.21, 12.3), (3.22, 13.0), (3.23, 12.6),
    (3.24, 13.7), (3.24, 12.1), (3.18, 13.6), (3.21, 12.9), (3.23, 13.3), (3.16, 12.7), (3.25, 12.5),
    (3.26, 11.9), (3.26, 13.1), (3.27, 12.5), (3.28, 13.6), (3.28, 12.2), (3.29, 12.8), (3.30, 11.7), (3.30, 13.3),
    (3.31, 12.4), (3.31, 12.9), (3.32, 11.9), (3.32, 13.5), (3.33, 12.2), (3.33, 12.7), (3.34, 13.1), (3.34, 11.6),
    (3.35, 12.4), (3.27, 11.8), (3.29, 13.4), (3.35, 13.0), (3.26, 12.3), (3.30, 12.0), (3.32, 12.6), (3.34, 12.0),
    (3.28, 12.9),
    (3.36, 11.4), (3.36, 12.6), (3.37, 13.2), (3.37, 11.9), (3.38, 12.3), (3.38, 12.9), (3.39, 11.6), (3.39, 13.4),
    (3.40, 12.1), (3.40, 12.7), (3.41, 11.3), (3.41, 13.0), (3.42, 11.8), (3.42, 12.4), (3.43, 12.9), (3.43, 11.5),
    (3.44, 12.2), (3.44, 13.3), (3.45, 11.9), (3.45, 12.6), (3.36, 12.1), (3.38, 11.7), (3.40, 13.1), (3.42, 12.0),
    (3.44, 11.7), (3.37, 12.4), (3.39, 12.0), (3.41, 12.5), (3.43, 12.3), (3.45, 13.0),
    (3.46, 11.1), (3.46, 12.3), (3.47, 12.9), (3.47, 11.6), (3.48, 12.0), (3.48, 10.9), (3.49, 12.6), (3.49, 11.3),
    (3.50, 13.1), (3.50, 11.8), (3.51, 12.2), (3.51, 10.8), (3.52, 11.5), (3.52, 12.7), (3.53, 11.0), (3.53, 12.0),
    (3.54, 12.9), (3.54, 11.4), (3.55, 11.9), (3.55, 12.4), (3.46, 11.8), (3.47, 12.2), (3.48, 12.7), (3.49, 11.9),
    (3.50, 11.1), (3.51, 11.7), (3.52, 12.3), (3.53, 12.5), (3.54, 11.7), (3.55, 11.2), (3.47, 11.3), (3.49, 12.3),
    (3.51, 12.9), (3.53, 11.4), (3.55, 12.7),
    (3.56, 10.5), (3.56, 11.6), (3.57, 12.4), (3.57, 11.0), (3.58, 11.9), (3.58, 12.8), (3.59, 10.7), (3.59, 11.4),
    (3.60, 12.2), (3.60, 10.4), (3.61, 11.7), (3.61, 12.6), (3.62, 11.1), (3.62, 10.6), (3.63, 12.0), (3.63, 12.9),
    (3.64, 11.3), (3.64, 10.3), (3.65, 11.8), (3.65, 12.4), (3.56, 12.1), (3.57, 11.4), (3.58, 10.8), (3.59, 12.1),
    (3.60, 11.6), (3.61, 10.9), (3.62, 12.3), (3.63, 11.5), (3.64, 11.9), (3.65, 10.9), (3.56, 11.0), (3.58, 11.5),
    (3.60, 11.0), (3.62, 11.8), (3.64, 12.5), (3.57, 10.6), (3.59, 12.6), (3.61, 11.3), (3.63, 10.6), (3.65, 11.4),
    (3.66, 10.1), (3.66, 11.2), (3.67, 12.0), (3.67, 10.6), (3.68, 11.6), (3.68, 12.5), (3.69, 10.3), (3.69, 11.0),
    (3.70, 11.9), (3.70, 9.9), (3.71, 11.4), (3.71, 12.3), (3.72, 10.7), (3.72, 10.2), (3.73, 11.7), (3.73, 12.6),
    (3.74, 11.0), (3.74, 9.8), (3.75, 11.5), (3.75, 12.1), (3.66, 11.7), (3.67, 11.0), (3.68, 10.4), (3.69, 11.8),
    (3.70, 11.2), (3.71, 10.5), (3.72, 12.0), (3.73, 11.1), (3.74, 11.6), (3.75, 10.5), (3.66, 10.6), (3.68, 11.1),
    (3.70, 10.6), (3.72, 11.4), (3.74, 12.2), (3.67, 10.2), (3.69, 12.2), (3.71, 10.9), (3.73, 10.3), (3.75, 8.8),
    (3.76, 9.6), (3.76, 10.8), (3.77, 11.6), (3.77, 10.2), (3.78, 11.2), (3.78, 12.1), (3.79, 9.8), (3.79, 10.6),
    (3.80, 11.5), (3.80, 9.4), (3.81, 11.0), (3.81, 11.9), (3.82, 10.3), (3.82, 9.7), (3.83, 11.3), (3.83, 12.2),
    (3.84, 10.6), (3.84, 9.3), (3.85, 11.1), (3.85, 11.7), (3.76, 11.3), (3.77, 10.6), (3.78, 10.0), (3.79, 11.4),
    (3.80, 10.8), (3.81, 10.1), (3.82, 11.6), (3.83, 10.7), (3.84, 11.2), (3.85, 10.1), (3.76, 10.2), (3.78, 10.7),
    (3.80, 10.2), (3.82, 11.0), (3.84, 11.8), (3.77, 9.7), (3.79, 11.9), (3.81, 10.5), (3.83, 9.9), (3.85, 10.5),
    (3.86, 9.2), (3.86, 10.4), (3.87, 11.2), (3.87, 9.8), (3.88, 10.8), (3.88, 11.7), (3.89, 9.4), (3.89, 10.2),
    (3.90, 11.1), (3.90, 9.0), (3.91, 10.6), (3.91, 11.5), (3.92, 9.9), (3.92, 9.3), (3.93, 10.9), (3.93, 11.8),
    (3.94, 10.2), (3.94, 8.9), (3.95, 10.7), (3.95, 11.3), (3.86, 10.9), (3.87, 10.2), (3.88, 9.6), (3.89, 11.0),
    (3.90, 10.4), (3.91, 9.7), (3.92, 11.2), (3.93, 10.3), (3.94, 10.8), (3.95, 9.7), (3.86, 9.8), (3.88, 10.3),
    (3.90, 9.8), (3.92, 10.6), (3.94, 11.4), (3.87, 9.3), (3.89, 11.5), (3.91, 10.1), (3.93, 9.5), (3.95, 10.1),
    (3.96, 8.7), (3.96, 9.9), (3.97, 10.8), (3.97, 9.3), (3.98, 10.4), (3.98, 11.2), (3.99, 8.9), (3.99, 9.7),
    (4.00, 10.7), (4.00, 8.5), (4.01, 10.1), (4.01, 11.0), (4.02, 9.4), (4.02, 8.8), (4.03, 10.5), (4.03, 11.3),
    (4.04, 9.8), (4.04, 8.4), (4.05, 10.2), (4.05, 10.9), (3.96, 10.5), (3.97, 9.8), (3.98, 9.1), (3.99, 10.6),
    (4.00, 9.9), (4.01, 9.2), (4.02, 10.8), (4.03, 9.8), (4.04, 10.3), (4.05, 9.3), (3.97, 10.2), (3.99, 10.0),
    (4.01, 9.6), (4.04, 11.3),
    (4.06, 8.3), (4.06, 9.5), (4.07, 10.3), (4.07, 8.9), (4.08, 9.9), (4.08, 10.7), (4.09, 8.5), (4.09, 9.3),
    (4.10, 10.1), (4.10, 8.1), (4.11, 9.7), (4.11, 10.5), (4.12, 9.0), (4.12, 8.4), (4.13, 9.9), (4.13, 10.8),
    (4.14, 9.4), (4.14, 8.0), (4.15, 9.7), (4.15, 10.3), (4.06, 10.0), (4.08, 9.1), (4.10, 9.5), (4.12, 10.2),
    (4.14, 8.8), (4.07, 9.6), (4.09, 10.2), (4.11, 8.7), (4.13, 9.2), (4.15, 8.6),
    (4.16, 7.9), (4.16, 9.0), (4.17, 9.7), (4.17, 8.4), (4.18, 9.3), (4.18, 10.1), (4.19, 8.1), (4.19, 8.8),
    (4.20, 9.5), (4.20, 7.8), (4.21, 9.1), (4.21, 9.9), (4.22, 8.5), (4.22, 8.0), (4.23, 9.3), (4.23, 8.7),
    (4.24, 9.0), (4.24, 7.7), (4.25, 8.3), (4.25, 9.6), (4.17, 8.9), (4.19, 9.4), (4.21, 8.4), (4.23, 9.8),
    (4.18, 8.6),
    (4.26, 7.6), (4.26, 8.6), (4.27, 9.2), (4.27, 8.0), (4.28, 8.8), (4.29, 7.5), (4.29, 8.4), (4.30, 9.0),
    (4.31, 7.8), (4.31, 8.6), (4.32, 8.2), (4.32, 7.4), (4.33, 8.8), (4.34, 7.9), (4.34, 8.4), (4.35, 7.6),
    (4.28, 7.7), (4.30, 8.1),
    (4.36, 7.9), (4.37, 7.3), (4.37, 8.3), (4.38, 7.7), (4.39, 7.4), (4.39, 8.0), (4.36, 7.1)]
w4_sigma_phi = [
    (.005, 10.5), (.010, 8.5), (.015, 10.8), (.020, 9.7), (.030, 9.2), (.035, 8.9), (.040, 9.9), (.045, 8.3),
    (.025, 9.4),
    (.052, 8.1), (.055, 9.6), (.060, 10.4), (.063, 8.8), (.068, 9.2), (.072, 11.0), (.075, 7.9), (.080, 9.9),
    (.083, 8.5), (.088, 11.5), (.092, 9.4), (.097, 10.2),
    (.101, 8.9), (.104, 10.6), (.107, 7.9), (.110, 9.6), (.113, 11.2), (.116, 8.4), (.120, 10.1), (.123, 9.1),
    (.126, 11.7), (.129, 8.1), (.133, 10.8), (.136, 9.8), (.139, 7.7), (.143, 10.3), (.146, 8.7), (.149, 11.4),
    (.151, 7.3), (.153, 7.5), (.155, 9.4), (.158, 10.9), (.160, 8.2), (.163, 11.6), (.166, 9.9), (.168, 8.6),
    (.171, 10.4), (.174, 7.9), (.177, 11.2), (.180, 9.1), (.183, 12.0), (.185, 8.8), (.188, 10.7), (.191, 9.6),
    (.194, 11.9), (.196, 8.4), (.198, 10.1), (.199, 9.3),
    (.201, 8.7), (.203, 9.2), (.205, 11.5), (.208, 8.1), (.210, 10.3), (.212, 9.6), (.215, 11.9), (.217, 7.8),
    (.220, 9.0), (.222, 10.8), (.225, 8.5), (.228, 9.9), (.230, 11.2), (.233, 8.9), (.236, 10.5), (.238, 9.4),
    (.240, 7.6), (.243, 11.7), (.245, 10.0), (.247, 8.3), (.249, 9.7), (.206, 9.0),
    (.251, 9.1), (.253, 10.6), (.256, 7.7), (.258, 11.8), (.261, 8.6), (.263, 9.9), (.266, 11.1), (.268, 8.2),
    (.270, 10.3), (.273, 12.1), (.275, 9.4), (.278, 7.9), (.280, 10.9), (.283, 8.9), (.285, 11.5), (.288, 9.7),
    (.290, 8.4), (.292, 10.1), (.295, 12.2), (.297, 9.0), (.299, 11.0), (.260, 10.0),
    (.301, 8.3), (.303, 10.4), (.305, 11.9), (.307, 9.2), (.310, 7.9), (.312, 10.9), (.314, 9.6), (.316, 12.3),
    (.319, 8.7), (.321, 11.3), (.323, 10.0), (.326, 8.1), (.328, 9.4), (.330, 11.7), (.332, 10.6), (.335, 8.9),
    (.337, 12.4), (.339, 9.8), (.342, 11.0), (.344, 8.4), (.346, 10.2), (.348, 9.1), (.349, 11.5), (.318, 10.1),
    (.351, 9.0), (.353, 11.2), (.355, 7.8), (.357, 10.5), (.359, 12.2), (.362, 8.6), (.364, 9.7), (.366, 11.6),
    (.368, 8.2), (.370, 10.1), (.372, 12.0), (.375, 9.3), (.377, 8.0), (.379, 10.8), (.381, 9.6), (.384, 11.4),
    (.386, 8.5), (.388, 10.3), (.390, 12.3), (.392, 9.1), (.394, 8.8), (.396, 11.0), (.398, 9.9), (.399, 7.9),
    (.401, 8.4), (.403, 10.6), (.405, 12.1), (.407, 9.3), (.409, 8.0), (.411, 11.4), (.413, 9.9), (.415, 12.6),
    (.418, 8.7), (.420, 10.9), (.422, 9.5), (.424, 11.8), (.426, 8.2), (.428, 10.2), (.430, 12.4), (.432, 9.1),
    (.434, 11.1), (.437, 8.6), (.439, 10.4), (.441, 12.7), (.443, 9.7), (.445, 7.9), (.447, 11.6), (.449, 10.0),
    (.417, 10.5), (.436, 9.4),
    (.451, 9.2), (.453, 11.0), (.455, 8.1), (.457, 12.3), (.459, 10.3), (.461, 8.8), (.463, 11.7), (.466, 9.6),
    (.468, 12.8), (.470, 10.6), (.472, 8.4), (.474, 11.3), (.476, 9.9), (.478, 12.1), (.480, 8.9), (.482, 10.8),
    (.485, 9.4), (.487, 11.9), (.489, 8.2), (.491, 10.1), (.493, 12.5), (.495, 9.0), (.497, 11.1), (.499, 10.4),
    (.465, 10.0), (.484, 9.2),
    (.501, 8.6), (.503, 10.9), (.505, 12.6), (.507, 9.5), (.509, 8.1), (.511, 11.5), (.513, 10.2), (.515, 12.9),
    (.518, 9.0), (.520, 11.2), (.522, 9.8), (.524, 12.2), (.526, 8.4), (.528, 10.6), (.530, 13.0), (.532, 9.3),
    (.534, 11.8), (.537, 8.9), (.539, 10.4), (.541, 12.4), (.543, 9.7), (.545, 8.3), (.547, 11.0), (.549, 10.0),
    (.516, 10.7), (.535, 11.3),
    (.551, 9.1), (.553, 11.4), (.555, 8.0), (.557, 12.7), (.559, 10.2), (.562, 8.7), (.564, 11.9), (.566, 9.6),
    (.568, 7.9), (.570, 10.8), (.572, 12.3), (.574, 9.3), (.576, 11.1), (.578, 8.5), (.580, 10.5), (.583, 12.9),
    (.585, 9.8), (.587, 11.6), (.589, 8.9), (.591, 10.0), (.593, 12.0), (.595, 9.4), (.597, 11.2), (.599, 10.6),
    (.601, 9.0), (.603, 11.5), (.605, 12.8), (.607, 8.4), (.609, 10.3), (.612, 11.9), (.614, 9.6), (.616, 13.1),
    (.618, 8.8), (.620, 10.9), (.623, 12.4), (.625, 9.3), (.627, 11.2), (.629, 8.5), (.632, 10.6), (.634, 12.0),
    (.636, 9.8), (.638, 11.6), (.641, 8.3), (.643, 10.1), (.645, 12.7), (.648, 9.5),
    (.651, 11.0), (.653, 12.5), (.655, 9.2), (.657, 13.4), (.659, 10.4), (.662, 8.6), (.664, 11.8), (.666, 9.8),
    (.668, 12.9), (.670, 10.7), (.673, 8.9), (.675, 12.2), (.677, 11.3), (.679, 9.5), (.682, 13.1), (.684, 10.1),
    (.686, 11.6), (.688, 14.1), (.691, 9.1), (.693, 12.6), (.696, 10.8), (.698, 11.9),
    (.701, 10.2), (.703, 12.3), (.705, 9.3), (.708, 11.5), (.710, 13.2), (.713, 10.7), (.716, 9.0), (.718, 12.0),
    (.721, 11.1), (.724, 13.4), (.727, 9.7), (.730, 12.7), (.733, 10.4), (.736, 11.8), (.739, 9.5), (.742, 12.4),
    (.745, 10.9), (.748, 13.0),
    (.752, 11.4), (.755, 9.8), (.758, 12.8), (.762, 10.6), (.765, 13.2), (.768, 11.9), (.771, 10.2), (.775, 12.4),
    (.778, 13.6), (.781, 11.1), (.785, 9.9), (.788, 12.9), (.791, 10.8), (.795, 12.2), (.798, 11.0), (.800, 12.5)]

top_titles = ['Wave 1', 'Wave 2', 'Wave 3', 'Wave 4']
mid_titles = ['128 points', '290 points', '162 points', '400 points']
bot_titles = ['44.9% of space implausible', '91.3% of space implausible',
              '94% of space implausible', '97.9% of space implausible']

logr_ticks = [3.0, 3.5, 4.0, 4.5, 5.0]
sigma_ticks = [0.0, 0.2, 0.4, 0.6, 0.8]
phi_ticks = [5, 10, 15, 20]

plt.rcParams['font.family'] = ['Liberation Sans', 'DejaVu Sans']

fig = plt.figure(figsize=(11.76, 6.69), dpi=100)
FW, FH = 1176, 669
col_left = [53, 345, 637, 929]
row_top = [29, 254, 479]
W, H = 232, 150

panels = [
    [w1_logr_sigma, w2_logr_sigma, w3_logr_sigma, w4_logr_sigma],
    [w1_logr_phi, w2_logr_phi, w3_logr_phi, w4_logr_phi],
    [w1_sigma_phi, w2_sigma_phi, w3_sigma_phi, w4_sigma_phi],
]
titles = [top_titles, mid_titles, bot_titles]


def setup(ax, row):
    if row < 2:
        ax.set_xlim(2.92, 5.08)
        ax.set_xticks(logr_ticks)
        ax.set_xticklabels(['%.1f' % t for t in logr_ticks])
        ax.set_xlabel('log r')
    else:
        ax.set_xlim(-0.032, 0.832)
        ax.set_xticks(sigma_ticks)
        ax.set_xticklabels(['%.1f' % t for t in sigma_ticks])
        ax.set_xlabel('σ')
    if row == 0:
        ax.set_ylim(-0.032, 0.832)
        ax.set_yticks(sigma_ticks)
        ax.set_yticklabels(['0.0', '', '0.4', '', '0.8'])
        ax.set_ylabel('σ')
    else:
        ax.set_ylim(3.44, 20.65)
        ax.set_yticks(phi_ticks)
        ax.set_yticklabels([str(t) for t in phi_ticks])
        ax.set_ylabel('φ')
    ax.tick_params(axis='both', labelsize=11.4, length=4, width=0.8, direction='out')
    ax.tick_params(axis='x', pad=2.5)
    ax.tick_params(axis='y', pad=3, labelrotation=90)
    for lab in ax.get_yticklabels():
        lab.set_va('center')
    ax.xaxis.label.set_size(11.4)
    ax.yaxis.label.set_size(11.4)
    ax.xaxis.set_label_coords(0.5, -0.155)
    ax.yaxis.set_label_coords(-0.155, 0.5)
    for sp in ax.spines.values():
        sp.set_linewidth(0.9)


for r in range(3):
    for c in range(4):
        ax = fig.add_axes([col_left[c] / FW, 1 - (row_top[r] + H) / FH, W / FW, H / FH])
        x, y = zip(*panels[r][c])
        ax.scatter(x, y, s=30, facecolors='none', edgecolors='black', linewidths=0.8, clip_on=False)
        setup(ax, r)
        ax.set_title(titles[r][c], fontsize=14, fontweight='bold', pad=4)

fig.savefig('out.png', dpi=100)
